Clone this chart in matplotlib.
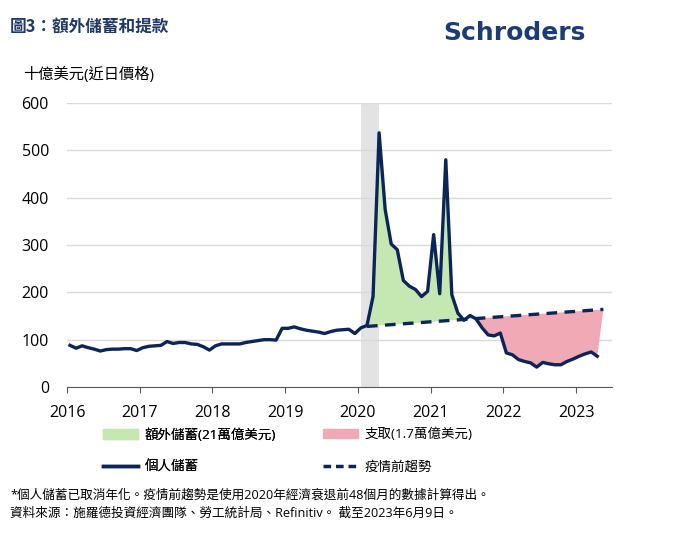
import numpy as np
import matplotlib
matplotlib.use("Agg")
import matplotlib.pyplot as plt
from matplotlib.patches import Patch
from matplotlib.lines import Line2D

plt.rcParams['font.family'] = ['Open Sans', 'Noto Sans CJK TC', 'DejaVu Sans']

# Personal savings, billions USD (not annualised), monthly Jan 2016 - Apr 2023
savings = [
    88, 82, 87, 83, 80, 76, 79, 80, 80, 81, 81, 77,          # 2016
    83, 86, 87, 88, 96, 92, 94, 94, 91, 90, 85, 78,          # 2017
    87, 91, 91, 91, 91, 94, 96, 98, 100, 100, 99, 124,       # 2018
    124, 127, 123, 120, 118, 116, 113, 117, 120, 121, 122, 113,  # 2019
    125, 130, 191, 537, 375, 302, 290, 225, 213, 206, 191, 202,  # 2020
    322, 197, 480, 195, 156, 141, 151, 144, 125, 110, 108, 114,  # 2021
    72, 68, 58, 54, 51, 42, 52, 49, 47, 47, 54, 59,          # 2022
    65, 70, 74, 65,                                          # 2023
]
start_year = 2016

# pre-pandemic trend (end points), decimal years
trend_x = [2020 + 1.5 / 12, 2023 + 4.5 / 12]
trend_y = [128, 164]

recession = (2020.04, 2020.29)

years = list(range(2016, 2024))
yticks = [0, 100, 200, 300, 400, 500, 600]

navy = '#0b2559'
green = '#c5e8b3'
pink = '#f0a9b5'

x = start_year + (np.arange(len(savings)) + 0.5) / 12
s = np.array(savings, dtype=float)

fig = plt.figure(figsize=(7, 5.33), dpi=100)
ax = fig.add_axes([67 / 700, 1 - 387 / 533, (611.7 - 67) / 700, (387 - 103) / 533])

ax.axvspan(recession[0], recession[1], color='#e3e3e3', zorder=0, lw=0)

# fill areas: extend data by the last trend point so the pink area closes on the trend
fx = np.r_[x, trend_x[1]]
fs = np.r_[s, trend_y[1]]
ft = np.interp(fx, trend_x, trend_y)
valid = fx >= trend_x[0]
ax.fill_between(fx, fs, ft, where=valid & (fs >= ft) & (fx < 2021.6),
                color=green, lw=0, interpolate=True, zorder=1)
ax.fill_between(fx, fs, ft, where=valid & (fs <= ft) & (fx > 2021.4),
                color=pink, lw=0, interpolate=True, zorder=1)

ax.plot(x, s, color=navy, lw=2.4, zorder=3, solid_joinstyle='round')
ax.plot(trend_x, trend_y, color=navy, lw=2.4, ls=(0, (3.2, 2.2)), zorder=3)

ax.set_xlim(2016, 2023.49)
ax.set_ylim(0, 600)
ax.set_xticks(years)
ax.set_xticklabels([str(y) for y in years])
ax.set_yticks(yticks)
ax.grid(axis='y', color='#d9d9d9', lw=1)
ax.set_axisbelow(True)
for side in ['top', 'right', 'left']:
    ax.spines[side].set_visible(False)
ax.spines['bottom'].set_color('#595959')
ax.tick_params(axis='y', length=0, pad=13, labelsize=11.5)
ax.tick_params(axis='x', length=4, color='#595959', pad=9, labelsize=11.5)

fig.text(10 / 700, 1 - 27 / 533, '圖3：額外儲蓄和提款', fontsize=12, color='#1f3864',
         va='center', ha='left', family=['Noto Sans CJK TC'], weight='bold')
fig.text(443 / 700, 1 - 40 / 533, 'Schroders', fontsize=18, color='#1c3c78',
         va='baseline', ha='left', family=['DejaVu Sans'], weight='bold')
fig.text(23 / 700, 1 - 75 / 533, '十億美元(近日價格)', fontsize=11, color='black',
         va='center', ha='left')

leg1 = fig.legend(handles=[Patch(color=green), Line2D([], [], color=navy, lw=2.5)],
                  labels=['額外儲蓄(21萬億美元)', '個人儲蓄'],
                  loc='upper left', bbox_to_anchor=(103 / 700, 1 - 428 / 533),
                  frameon=False, borderpad=0, borderaxespad=0, fontsize=9.7,
                  handlelength=2.6, handletextpad=0.5, labelspacing=1.45)
leg2 = fig.legend(handles=[Patch(color=pink), Line2D([], [], color=navy, lw=2.5, ls=(0, (2.2, 1.4)))],
                  labels=['支取(1.7萬億美元)', '疫情前趨勢'],
                  loc='upper left', bbox_to_anchor=(323 / 700, 1 - 428 / 533),
                  frameon=False, borderpad=0, borderaxespad=0, fontsize=9.7,
                  handlelength=2.6, handletextpad=0.5, labelspacing=1.45)
fig.add_artist(leg1)

fig.text(10 / 700, 1 - 495 / 533,
         '*個人儲蓄已取消年化。疫情前趨勢是使用2020年經濟衰退前48個月的數據計算得出。',
         fontsize=9.1, va='center', ha='left', color='black', weight='medium')
fig.text(10 / 700, 1 - 513 / 533,
         '資料來源：施羅德投資經濟團隊、勞工統計局、Refinitiv。 截至2023年6月9日。',
         fontsize=9.1, va='center', ha='left', color='black', weight='medium')

fig.savefig('out.png', dpi=100)
